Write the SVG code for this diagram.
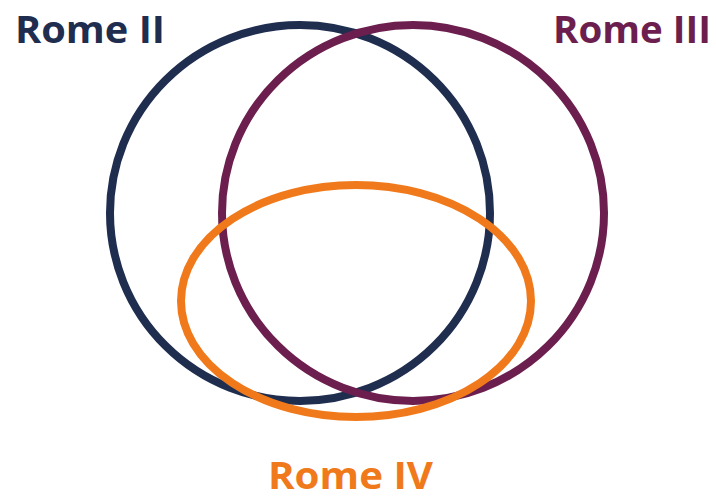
<svg xmlns="http://www.w3.org/2000/svg" width="716" height="501" viewBox="0 0 716 501">
<style>
.ring{fill:none;stroke-width:8}
.lbl{font-family:"Open Sans","Liberation Sans",sans-serif;font-weight:bold;font-size:38px}
</style>
<rect width="716" height="501" fill="#ffffff"/>
<g id="rome2">
<ellipse class="ring" cx="300" cy="213" rx="190" ry="188" stroke="#1f2d4f"/>
<text class="lbl" x="15" y="43" fill="#1f2d4f" textLength="150" lengthAdjust="spacingAndGlyphs">Rome II</text>
</g>
<g id="rome3">
<ellipse class="ring" cx="413" cy="213" rx="191" ry="188" stroke="#6c1f4e"/>
<text class="lbl" x="553" y="43" fill="#6c1f4e" textLength="158" lengthAdjust="spacingAndGlyphs">Rome III</text>
</g>
<g id="rome4">
<ellipse class="ring" cx="356" cy="301" rx="175" ry="116" stroke="#f07a1b"/>
<text class="lbl" x="268" y="489" fill="#f07a1b" textLength="165" lengthAdjust="spacingAndGlyphs">Rome IV</text>
</g>
<g id="connectors"/>
</svg>
